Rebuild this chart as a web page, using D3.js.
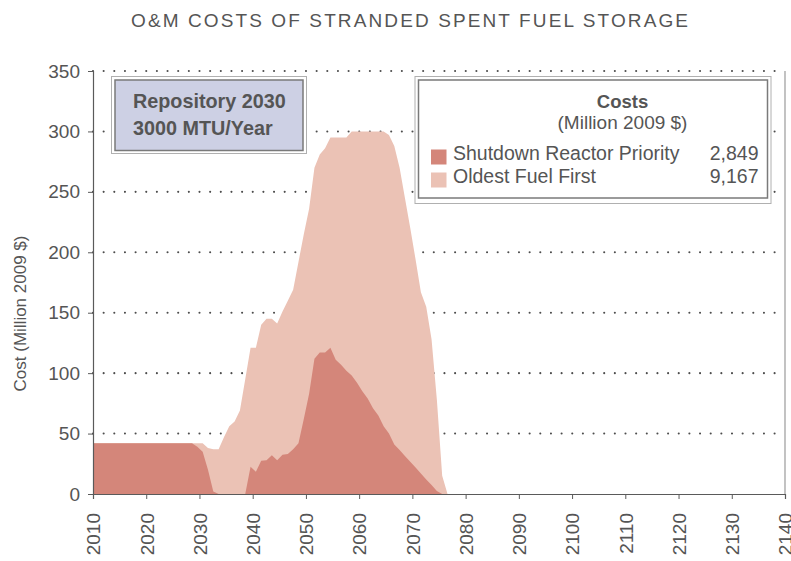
<!DOCTYPE html>
<html>
<head>
<meta charset="utf-8">
<script src="https://cdn.jsdelivr.net/npm/d3@7"></script>
<style>
  html, body { margin: 0; padding: 0; background: #fff; }
  svg { display: block; font-family: "Liberation Sans", Arial, Helvetica, sans-serif; }
</style>
</head>
<body>
<svg id="chart" width="791" height="561"></svg>
<script>
// ---------------- DATA ----------------
const title = "O&M COSTS OF STRANDED SPENT FUEL STORAGE";
const yAxisTitle = "Cost (Million 2009 $)";
const boxLines = ["Repository 2030", "3000 MTU/Year"];
const legendTitle = "Costs";
const legendSubtitle = "(Million 2009 $)";
const seriesNames = ["Shutdown Reactor Priority", "Oldest Fuel First"];
const seriesTotals = ["2,849", "9,167"];
const seriesColors = ["#d4867a", "#ebc2b5"];

const years = d3.range(2010, 2077); // 2010 .. 2076, zero afterwards

const shutdownReactorPriority = [
  42, 42, 42, 42, 42, 42, 42, 42, 42, 42,      // 2010-2019
  42, 42, 42, 42, 42, 42, 42, 42, 42, 39,      // 2020-2029
  35, 20, 2, 0, 0, 0, 0, 0, 0, 22.6,           // 2030-2039
  18.5, 27.6, 28, 32, 28, 32.5, 33, 37, 42, 62,// 2040-2049
  83, 112, 117, 117, 121, 111, 107, 102, 98, 92,// 2050-2059
  85, 79, 71, 65, 56, 50, 41, 36.5, 31.5, 26.7,// 2060-2069
  22, 17, 12, 7.5, 2.5, 0, 0                   // 2070-2076
];

const oldestFuelFirst = [
  42, 42, 42, 42, 42, 42, 42, 42, 42, 42,      // 2010-2019
  42, 42, 42, 42, 42, 42, 42, 42, 42, 42,      // 2020-2029
  42, 38, 37, 37, 47, 56, 60, 69, 95, 121,     // 2030-2039
  121, 140, 145, 145, 141, 151, 160, 169, 192, 215, // 2040-2049
  236, 270, 281, 286, 295, 295, 295, 295, 300, 300, // 2050-2059
  300, 300, 300, 300, 300, 297, 288, 270, 245, 220, // 2060-2069
  194, 167, 155, 128, 78, 15, 0                // 2070-2076
];

const xTicks = d3.range(2010, 2141, 10);
const yTicks = [0, 50, 100, 150, 200, 250, 300, 350];

// ---------------- LAYOUT ----------------
const W = 791, H = 561;
const margin = { top: 71, right: 6, bottom: 67, left: 93 };
const iw = W - margin.left - margin.right;
const ih = H - margin.top - margin.bottom;
const textColor = "#555555";
const axisColor = "#5a5a5a";
const midYear = 0.6; // values are plotted inside their year band

const svg = d3.select("#chart");

const x = d3.scaleLinear().domain([2010, 2140]).range([0, iw]);
const y = d3.scaleLinear().domain([0, 350]).range([ih, 0]);

// Title
svg.append("text")
  .attr("x", 131).attr("y", 27)
  .attr("textLength", 557).attr("lengthAdjust", "spacing")
  .attr("fill", textColor)
  .style("font-size", "19px")
  .text(title);

const g = svg.append("g").attr("transform", `translate(${margin.left},${margin.top})`);

// Gridlines (dotted)
g.append("g").selectAll("line")
  .data(yTicks.filter(d => d > 0))
  .join("line")
  .attr("x1", 0).attr("x2", iw)
  .attr("y1", d => y(d)).attr("y2", d => y(d))
  .attr("stroke", "#4d4d4d")
  .attr("stroke-width", 2.1)
  .attr("stroke-linecap", "round")
  .attr("stroke-dasharray", "0 10.65");

// Areas
function seriesPoints(vals) {
  const pts = [{ px: x(years[0]), v: vals[0] }];
  years.forEach((yr, i) => pts.push({ px: x(yr + midYear), v: vals[i] }));
  return pts;
}
const area = d3.area()
  .x(d => d.px)
  .y0(y(0))
  .y1(d => y(d.v))
  .curve(d3.curveLinear);

g.append("path")
  .datum(seriesPoints(oldestFuelFirst))
  .attr("d", area)
  .attr("fill", seriesColors[1]);

g.append("path")
  .datum(seriesPoints(shutdownReactorPriority))
  .attr("d", area)
  .attr("fill", seriesColors[0]);

// Axes
const yAxis = d3.axisLeft(y).tickValues(yTicks).tickSize(5).tickPadding(8);
const yG = g.append("g").call(yAxis);
yG.select(".domain").attr("stroke", axisColor).attr("stroke-width", 1.2);
yG.selectAll(".tick line").attr("stroke", axisColor);
yG.selectAll(".tick text").attr("fill", textColor).style("font-size", "19px")
  .attr("font-family", "Liberation Sans, Arial, sans-serif");

const xAxis = d3.axisBottom(x).tickValues(xTicks).tickSize(5).tickFormat(d3.format("d"));
const xG = g.append("g").attr("transform", `translate(0,${ih})`).call(xAxis);
xG.select(".domain").attr("stroke", axisColor).attr("stroke-width", 1.2);
xG.selectAll(".tick line").attr("stroke", axisColor);
xG.selectAll(".tick text")
  .attr("fill", textColor)
  .style("font-size", "19px")
  .attr("font-family", "Liberation Sans, Arial, sans-serif")
  .attr("text-anchor", "end")
  .attr("dy", "0.36em")
  .attr("y", 0)
  .attr("transform", "translate(0,19) rotate(-90)");

// Right frame line
g.append("line")
  .attr("x1", iw).attr("x2", iw).attr("y1", 0).attr("y2", ih)
  .attr("stroke", "#9a9a9a").attr("stroke-width", 1.2);

// Y axis title
svg.append("text")
  .attr("transform", `translate(26,${(240 + 387) / 2}) rotate(-90)`)
  .attr("text-anchor", "middle")
  .attr("fill", textColor)
  .style("font-size", "17px")
  .text(yAxisTitle);

// Scenario box (upper left)
svg.append("rect").attr("x", 111.5).attr("y", 76.5).attr("width", 195).attr("height", 77)
  .attr("fill", "#fff").attr("stroke", "#b0b0b0").attr("stroke-width", 1);
svg.append("rect").attr("x", 115).attr("y", 80).attr("width", 188).attr("height", 70.5)
  .attr("fill", "#cdd0e4").attr("stroke", "#7a7a7a").attr("stroke-width", 1.5);
svg.append("g").selectAll("text")
  .data(boxLines)
  .join("text")
  .attr("x", 133).attr("y", (d, i) => 108 + i * 27)
  .attr("fill", textColor)
  .style("font-size", "19.8px").style("font-weight", "bold")
  .text(d => d);

// Legend box (upper right)
svg.append("rect").attr("x", 415).attr("y", 76.5).attr("width", 356).attr("height", 127)
  .attr("fill", "#fff").attr("stroke", "#b0b0b0").attr("stroke-width", 1);
svg.append("rect").attr("x", 418.5).attr("y", 80).attr("width", 349).attr("height", 118)
  .attr("fill", "#fff").attr("stroke", "#7a7a7a").attr("stroke-width", 1.5);
svg.append("text").attr("x", 622.5).attr("y", 108).attr("text-anchor", "middle")
  .attr("fill", textColor).style("font-size", "18.5px").style("font-weight", "bold")
  .text(legendTitle);
svg.append("text").attr("x", 622.5).attr("y", 129).attr("text-anchor", "middle")
  .attr("fill", textColor).style("font-size", "19px")
  .text(legendSubtitle);

const leg = svg.append("g").selectAll("g")
  .data(seriesNames)
  .join("g")
  .attr("transform", (d, i) => `translate(0,${i * 23})`);
leg.append("rect")
  .attr("x", 431).attr("y", 149.5).attr("width", 15.5).attr("height", 15)
  .attr("fill", (d, i) => seriesColors[i]);
leg.append("text")
  .attr("x", 453).attr("y", 159.5)
  .attr("fill", textColor).style("font-size", "19.5px")
  .text(d => d);
leg.append("text")
  .attr("x", 758.5).attr("y", 159.5).attr("text-anchor", "end")
  .attr("fill", textColor).style("font-size", "19.5px")
  .text((d, i) => seriesTotals[i]);
</script>
</body>
</html>
